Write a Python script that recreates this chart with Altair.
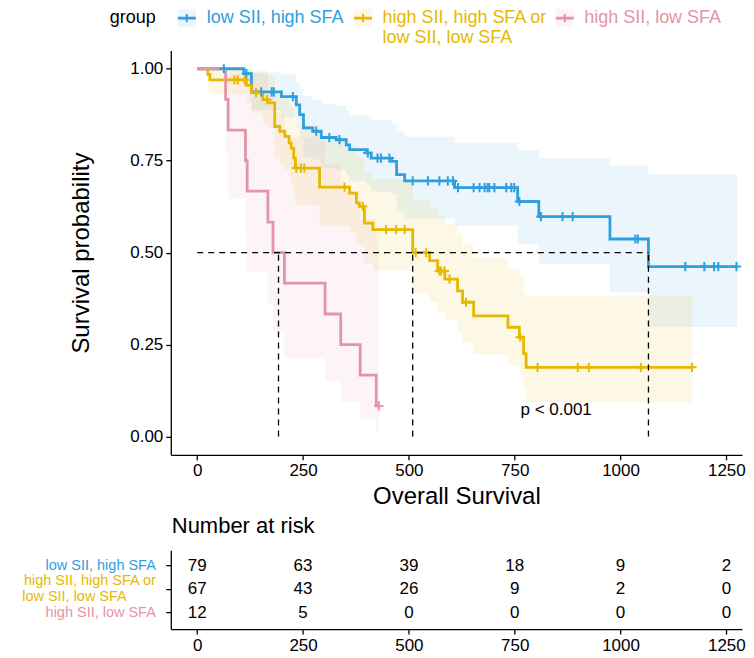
import altair as alt
import pandas as pd

# ---------------- data ----------------
GROUPS = ["low SII, high SFA", "high SII, high SFA or low SII, low SFA", "high SII, low SFA"]
COLORS = ["#2E9FDF", "#E7B800", "#E495A5"]

# Group 1: low SII, high SFA (step start times, survival, CI)
blue_t = [0, 110, 128, 199, 234, 242, 251, 273, 293, 328, 352, 360, 399, 411, 459, 471, 490, 608, 757, 807, 975, 1066, 1276]
blue_s = [1.0, 0.987, 0.937, 0.924, 0.902, 0.875, 0.839, 0.830, 0.813, 0.807, 0.793, 0.780, 0.771, 0.757, 0.748, 0.712, 0.695, 0.677, 0.639, 0.598, 0.537, 0.462, 0.462]
blue_hi = [1.0, 1.0, 0.99, 0.985, 0.965, 0.945, 0.925, 0.915, 0.905, 0.90, 0.885, 0.875, 0.87, 0.86, 0.85, 0.83, 0.815, 0.799, 0.779, 0.757, 0.736, 0.713, 0.713]
blue_lo = [1.0, 0.963, 0.887, 0.867, 0.843, 0.81, 0.761, 0.753, 0.730, 0.724, 0.711, 0.695, 0.683, 0.666, 0.658, 0.611, 0.593, 0.574, 0.522, 0.470, 0.392, 0.298, 0.298]
blue_cens_t = [63, 116, 151, 176, 181, 226, 281, 312, 336, 403, 426, 434, 454, 509, 545, 572, 592, 604, 616, 653, 667, 679, 686, 690, 702, 730, 742, 749, 761, 812, 863, 887, 1035, 1041, 1153, 1198, 1221, 1231, 1274]
blue_cens_s = [1.0, 0.987, 0.937, 0.937, 0.937, 0.924, 0.830, 0.813, 0.807, 0.771, 0.757, 0.757, 0.757, 0.695, 0.695, 0.695, 0.695, 0.695, 0.677, 0.677, 0.677, 0.677, 0.677, 0.677, 0.677, 0.677, 0.677, 0.677, 0.639, 0.598, 0.598, 0.598, 0.537, 0.537, 0.462, 0.462, 0.462, 0.462, 0.462]

# Group 2: high SII, high SFA or low SII, low SFA
yel_t = [0, 25, 30, 116, 128, 155, 167, 183, 195, 207, 217, 222, 228, 232, 289, 360, 376, 383, 395, 415, 509, 549, 568, 585, 615, 627, 653, 734, 761, 771, 777, 1170]
yel_s = [1.0, 0.985, 0.970, 0.955, 0.935, 0.916, 0.907, 0.843, 0.830, 0.816, 0.798, 0.784, 0.757, 0.730, 0.678, 0.662, 0.635, 0.626, 0.580, 0.5625, 0.500, 0.478, 0.450, 0.428, 0.396, 0.365, 0.328, 0.297, 0.270, 0.225, 0.188, 0.188]
yel_hi = [1.0, 1.0, 1.0, 1.0, 0.99, 0.985, 0.98, 0.937, 0.928, 0.918, 0.904, 0.894, 0.870, 0.847, 0.802, 0.788, 0.765, 0.757, 0.716, 0.70, 0.642, 0.623, 0.599, 0.578, 0.551, 0.523, 0.485, 0.457, 0.432, 0.39, 0.383, 0.383]
yel_lo = [1.0, 0.939, 0.930, 0.905, 0.88, 0.85, 0.84, 0.758, 0.742, 0.725, 0.704, 0.688, 0.658, 0.629, 0.573, 0.556, 0.527, 0.517, 0.47, 0.452, 0.389, 0.367, 0.338, 0.317, 0.285, 0.255, 0.222, 0.193, 0.169, 0.130, 0.093, 0.093]
yel_cens_t = [88, 96, 112, 139, 165, 234, 245, 253, 348, 391, 446, 470, 490, 516, 541, 572, 576, 584, 596, 635, 763, 804, 899, 925, 1048, 1169]
yel_cens_s = [0.970, 0.970, 0.970, 0.935, 0.916, 0.730, 0.730, 0.730, 0.678, 0.626, 0.5625, 0.5625, 0.5625, 0.5, 0.5, 0.45, 0.45, 0.45, 0.428, 0.365, 0.270, 0.188, 0.188, 0.188, 0.188, 0.188]

# Group 3: high SII, low SFA
pink_t = [0, 67, 73, 114, 118, 167, 179, 206, 302, 339, 385, 423, 429]
pink_s = [1.0, 0.917, 0.833, 0.750, 0.667, 0.583, 0.500, 0.417, 0.333, 0.250, 0.167, 0.083, 0.083]
pink_hi = [1.0, 1.0, 1.0, 1.0, 0.995, 0.94, 0.88, 0.814, 0.742, 0.666, 0.59, 0.54, 0.54]
pink_lo = [1.0, 0.773, 0.647, 0.541, 0.447, 0.362, 0.284, 0.213, 0.150, 0.094, 0.047, 0.013, 0.013]
pink_cens_t = [429]
pink_cens_s = [0.083]

# medians
median_t = [192, 509, 1066]

# number at risk
risk_times = [0, 250, 500, 750, 1000, 1250]
risk_blue = [79, 63, 39, 18, 9, 2]
risk_yel = [67, 43, 26, 9, 2, 0]
risk_pink = [12, 5, 0, 0, 0, 0]

# ---------------- tables ----------------
def curve(g, t, s, lo, hi):
    return pd.DataFrame({"group": g, "t": t, "s": s, "lo": lo, "hi": hi})

curves = pd.concat([
    curve(GROUPS[0], blue_t, blue_s, blue_lo, blue_hi),
    curve(GROUPS[1], yel_t, yel_s, yel_lo, yel_hi),
    curve(GROUPS[2], pink_t, pink_s, pink_lo, pink_hi),
], ignore_index=True)

cens = pd.concat([
    pd.DataFrame({"group": GROUPS[0], "t": blue_cens_t, "s": blue_cens_s}),
    pd.DataFrame({"group": GROUPS[1], "t": yel_cens_t, "s": yel_cens_s}),
    pd.DataFrame({"group": GROUPS[2], "t": pink_cens_t, "s": pink_cens_s}),
], ignore_index=True)

hline = pd.DataFrame({"t": [0], "t2": [max(median_t)], "s": [0.5]})
vlines = pd.DataFrame({"t": median_t, "s": [0.0] * 3, "s2": [0.5] * 3})

risk = pd.concat([
    pd.DataFrame({"group": GROUPS[0], "row": 3, "t": risk_times, "n": risk_blue}),
    pd.DataFrame({"group": GROUPS[1], "row": 2, "t": risk_times, "n": risk_yel}),
    pd.DataFrame({"group": GROUPS[2], "row": 1, "t": risk_times, "n": risk_pink}),
], ignore_index=True)

# ---------------- styling ----------------
FONT = "Liberation Sans"
W = 572
H_MAIN = 405
H_RISK = 79
PLUS = "M-1,0L1,0M0,-1L0,1"

xscale = alt.Scale(domain=[-62.5, 1287], nice=False, zero=False)
xaxis = alt.Axis(values=risk_times, format="d", title="Overall Survival", labelFontSize=17,
                 titleFontSize=24, titlePadding=6, labelPadding=3)
yscale = alt.Scale(domain=[-0.05, 1.05], nice=False, zero=False)
yaxis = alt.Axis(values=[0, 0.25, 0.5, 0.75, 1.0], format=".2f", title="Survival probability",
                 labelFontSize=17, titleFontSize=24, titlePadding=36, labelPadding=3)
cscale = alt.Scale(domain=GROUPS, range=COLORS)

X = alt.X("t:Q", scale=xscale, axis=xaxis)
Y = alt.Y("s:Q", scale=yscale, axis=yaxis)

bands = alt.Chart(curves).mark_area(interpolate="step-after", opacity=0.1).encode(
    x=X, y=alt.Y("lo:Q", scale=yscale, axis=yaxis), y2="hi:Q",
    color=alt.Color("group:N", scale=cscale, legend=None))

lines = alt.Chart(curves).mark_line(interpolate="step-after", strokeWidth=2.8).encode(
    x=X, y=Y, color=alt.Color("group:N", scale=cscale, legend=None))

marks = alt.Chart(cens).mark_point(shape=PLUS, size=85, strokeWidth=2, filled=False, opacity=1).encode(
    x=X, y=Y, color=alt.Color("group:N", scale=cscale, legend=None))

dash = dict(color="black", strokeDash=[6, 5], strokeWidth=1.3)
h_rule = alt.Chart(hline).mark_rule(**dash).encode(x=X, x2="t2:Q", y=Y)
v_rule = alt.Chart(vlines).mark_rule(**dash).encode(x=X, y=Y, y2="s2:Q")

ptext = alt.Chart(pd.DataFrame({"t": [848], "s": [0.071], "label": ["p < 0.001"]})).mark_text(
    fontSize=17, font=FONT, color="black").encode(x=X, y=Y, text="label:N")

# legend (manual, on top)
LEG_Y = -32.3
leg_layers = [
    alt.Chart(hline).mark_text(text="group", align="left", baseline="middle", fontSize=18,
                               font=FONT, color="black").encode(x=alt.value(-61), y=alt.value(LEG_Y))
]
key_x = [16, 192.5, 394.5]
txt_x = [36, 212, 414]
leg_lines = [["low SII, high SFA"], ["high SII, high SFA or", "low SII, low SFA"], ["high SII, low SFA"]]
for i, g in enumerate(GROUPS):
    c = COLORS[i]
    leg_layers.append(alt.Chart(hline).mark_square(size=324, color=c, opacity=0.1).encode(
        x=alt.value(key_x[i]), y=alt.value(LEG_Y)))
    leg_layers.append(alt.Chart(hline).mark_rule(color=c, strokeWidth=2.8).encode(
        x=alt.value(key_x[i] - 9), x2=alt.value(key_x[i] + 9), y=alt.value(LEG_Y)))
    leg_layers.append(alt.Chart(hline).mark_point(shape=PLUS, size=70, strokeWidth=2, filled=False,
                                                  color=c, opacity=1).encode(
        x=alt.value(key_x[i]), y=alt.value(LEG_Y)))
    for j, line in enumerate(leg_lines[i]):
        leg_layers.append(alt.Chart(hline).mark_text(text=line, align="left", baseline="middle",
                                                     fontSize=18, font=FONT, color=c).encode(
            x=alt.value(txt_x[i]), y=alt.value(LEG_Y + 20 * j)))

main = alt.layer(bands, lines, marks, h_rule, v_rule, ptext, *leg_layers).properties(
    width=W, height=H_MAIN)

# ---------------- risk table ----------------
rx = alt.X("t:Q", scale=xscale, axis=alt.Axis(values=risk_times, format="d", title=None,
                                              labelFontSize=17, labelPadding=3))
ry = alt.Y("row:Q", scale=alt.Scale(domain=[0.3, 3.65], nice=False, zero=False),
           axis=alt.Axis(values=[1, 2, 3], labels=False, title=None, tickSize=5))

risk_text = alt.Chart(risk).mark_text(fontSize=17, font=FONT, color="black").encode(
    x=rx, y=ry, text="n:Q")

row_of = {GROUPS[0]: 3, GROUPS[1]: 2, GROUPS[2]: 1}
risk_lab = []
LAB_FS = 14.5
LINE1_W = 133.8   # rendered width of the first line of the two-line label
for i, g in enumerate(GROUPS):
    lines_g = leg_lines[i]
    df = pd.DataFrame({"row": [row_of[g]]})
    if len(lines_g) == 1:
        risk_lab.append(alt.Chart(df).mark_text(text=lines_g[0], align="right", baseline="middle",
                                                fontSize=LAB_FS, font=FONT, color=COLORS[i]).encode(
            x=alt.value(-15), y=ry))
    else:
        risk_lab.append(alt.Chart(df).mark_text(text=lines_g[0], align="right", baseline="middle", dy=-8.3,
                                                fontSize=LAB_FS, font=FONT, color=COLORS[i]).encode(
            x=alt.value(-15), y=ry))
        risk_lab.append(alt.Chart(df).mark_text(text=lines_g[1], align="left", baseline="middle", dy=8.3,
                                                fontSize=LAB_FS, font=FONT, color=COLORS[i]).encode(
            x=alt.value(-15 - LINE1_W), y=ry))

risk_title = alt.Chart(hline).mark_text(text="Number at risk", align="left", baseline="middle",
                                        fontSize=22, font=FONT, color="black").encode(
    x=alt.value(1), y=alt.value(-24))

risk_chart = alt.layer(risk_text, *risk_lab, risk_title).properties(width=W, height=H_RISK)

chart = alt.vconcat(main, risk_chart, spacing=95.5, bounds="flush").properties(
    padding={"left": 14, "top": 0, "right": 0, "bottom": 0}
).configure_view(strokeWidth=0).configure_axis(
    grid=False, domainColor="black", domainWidth=1.3, tickColor="black", tickWidth=1.3, tickSize=5,
    labelColor="black", titleColor="black", labelFont=FONT, titleFont=FONT, titleFontWeight="normal"
).configure_text(font=FONT)

chart.save("out.html", embed_options={"renderer": "svg", "actions": False})
